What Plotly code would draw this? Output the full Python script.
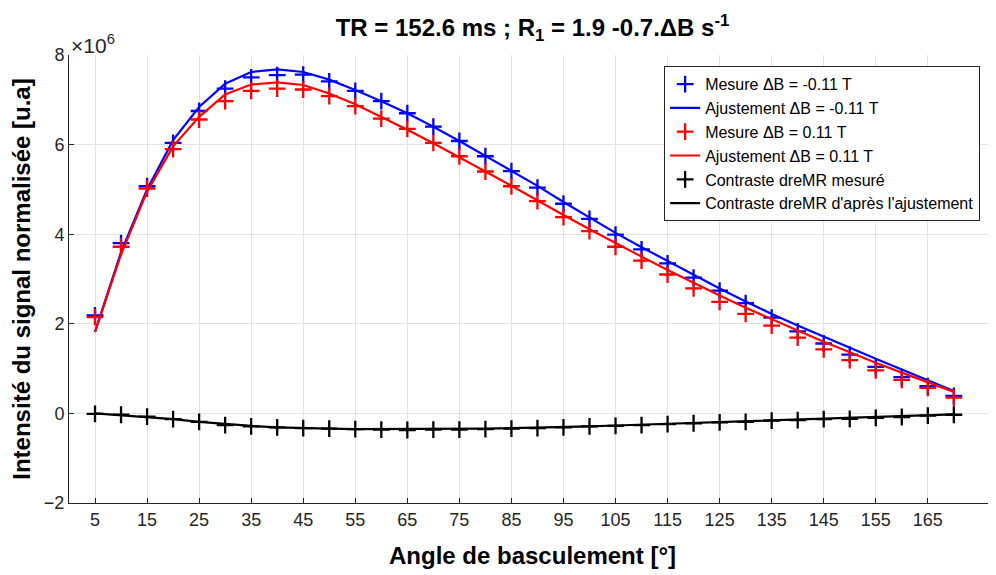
import plotly.graph_objects as go

angles = list(range(5, 171, 5))

mes_neg = [2.19, 3.80, 5.07, 6.04, 6.75, 7.25, 7.50, 7.55, 7.56, 7.41, 7.20, 6.97, 6.70, 6.40,
           6.08, 5.74, 5.41, 5.04, 4.68, 4.34, 3.99, 3.66, 3.35, 3.03, 2.74, 2.46, 2.14, 1.83,
           1.56, 1.31, 1.04, 0.81, 0.61, 0.39]
fit_neg = [1.82, 3.60, 5.00, 6.10, 6.84, 7.36, 7.62, 7.68, 7.62, 7.45, 7.22, 6.97, 6.70, 6.40,
           6.08, 5.75, 5.42, 5.08, 4.72, 4.37, 4.03, 3.71, 3.40, 3.09, 2.79, 2.50, 2.22, 1.96,
           1.71, 1.46, 1.22, 0.98, 0.74, 0.50]
mes_pos = [2.15, 3.72, 5.02, 5.90, 6.56, 6.97, 7.20, 7.25, 7.23, 7.08, 6.86, 6.58, 6.35, 6.04,
           5.74, 5.40, 5.07, 4.74, 4.38, 4.07, 3.72, 3.41, 3.10, 2.79, 2.49, 2.22, 1.96, 1.69,
           1.43, 1.19, 0.96, 0.75, 0.57, 0.35]
fit_pos = [1.82, 3.55, 4.95, 5.96, 6.62, 7.12, 7.34, 7.39, 7.33, 7.14, 6.90, 6.62, 6.33, 6.03,
           5.72, 5.40, 5.08, 4.75, 4.43, 4.11, 3.80, 3.50, 3.20, 2.91, 2.63, 2.36, 2.10, 1.85,
           1.60, 1.36, 1.13, 0.91, 0.70, 0.48]
mes_contrast = [-0.01, -0.03, -0.07, -0.13, -0.19, -0.26, -0.29, -0.31, -0.33, -0.34, -0.35, -0.36,
                -0.37, -0.36, -0.36, -0.35, -0.34, -0.33, -0.31, -0.29, -0.28, -0.26, -0.24, -0.22,
                -0.20, -0.19, -0.16, -0.15, -0.13, -0.12, -0.10, -0.08, -0.05, -0.03]
fit_contrast = [0.0, -0.04, -0.08, -0.13, -0.19, -0.24, -0.28, -0.31, -0.33, -0.34, -0.35, -0.35,
                -0.35, -0.35, -0.35, -0.34, -0.33, -0.32, -0.30, -0.29, -0.27, -0.25, -0.24, -0.22,
                -0.20, -0.18, -0.16, -0.14, -0.12, -0.10, -0.08, -0.06, -0.04, -0.02]

x_ticks = list(range(5, 166, 10))
y_ticks = [-2, 0, 2, 4, 6, 8]

names = ["Mesure \u0394B = -0.11 T", "Ajustement \u0394B = -0.11 T",
         "Mesure \u0394B = 0.11 T", "Ajustement \u0394B = 0.11 T",
         "Contraste dreMR mesuré", "Contraste dreMR d'après l'ajustement"]

FONT = "Liberation Sans, Arial, Helvetica, sans-serif"
AX = "#262626"

fig = go.Figure()

def add_marker(y, color, name, g):
    fig.add_trace(go.Scatter(x=angles, y=y, mode="markers", name=name, legendgroup=g,
                             marker=dict(symbol="cross-thin", size=12, color=color,
                                         line=dict(color=color, width=2.3))))

def add_line(y, color, name, g):
    fig.add_trace(go.Scatter(x=angles, y=y, mode="lines", name=name, legendgroup=g,
                             line=dict(color=color, width=2.2)))

add_marker(mes_neg, "#0000ff", names[0], "a")
add_line(fit_neg, "#0000ff", names[1], "b")
add_marker(mes_pos, "#ff0000", names[2], "c")
add_line(fit_pos, "#ff0000", names[3], "d")
add_marker(mes_contrast, "#000000", names[4], "e")
add_line(fit_contrast, "#000000", names[5], "f")

# page body has an 8px margin: figure sized/offset to compensate
fig.update_layout(
    width=988, height=567,
    margin=dict(l=61, r=0, t=47, b=72, autoexpand=False),
    paper_bgcolor="white", plot_bgcolor="white",
    font=dict(family=FONT, color=AX, size=17),
    title=dict(text="<b>TR = 152.6 ms ; R<sub>1</sub> = 1.9 -0.7.\u0394B s<sup>-1</sup></b>",
               x=0.5, xref="paper", xanchor="center", y=0.966, yanchor="middle",
               font=dict(family=FONT, size=24, color="#000000")),
    legend=dict(x=0.642, y=0.975, xanchor="left", yanchor="top",
                bgcolor="white", bordercolor="#262626", borderwidth=1,
                font=dict(family=FONT, size=16, color="#000000"),
                tracegroupgap=0, itemwidth=30),
    showlegend=True,
)

fig.update_xaxes(
    range=[0, 178.1], tickmode="array", tickvals=x_ticks, automargin=False,
    ticks="inside", ticklen=5, tickcolor=AX, tickwidth=1,
    showline=True, linecolor=AX, linewidth=1, mirror=False,
    showgrid=True, gridcolor="#e3e3e3", gridwidth=1, zeroline=False,
    tickfont=dict(family=FONT, size=18, color=AX),
    title=dict(text="<b>Angle de basculement [°]</b>", standoff=18,
               font=dict(family=FONT, size=24, color="#000000")),
)
fig.update_yaxes(
    range=[-2, 8], tickmode="array", tickvals=y_ticks, automargin=False,
    ticks="inside", ticklen=5, tickcolor=AX, tickwidth=1,
    showline=True, linecolor=AX, linewidth=1, mirror=False,
    showgrid=True, gridcolor="#e3e3e3", gridwidth=1, zeroline=False,
    tickfont=dict(family=FONT, size=18, color=AX),
    title=dict(text="<b>Intensité du signal normalisée [u.a]</b>", standoff=8,
               font=dict(family=FONT, size=24, color="#000000")),
)

fig.add_annotation(text="\u00d710<sup>6</sup>", xref="paper", yref="paper", x=0, y=1.0,
                   xanchor="left", yanchor="bottom", showarrow=False, yshift=-4,
                   font=dict(family=FONT, size=21, color=AX))

fig.write_html("out.html")
